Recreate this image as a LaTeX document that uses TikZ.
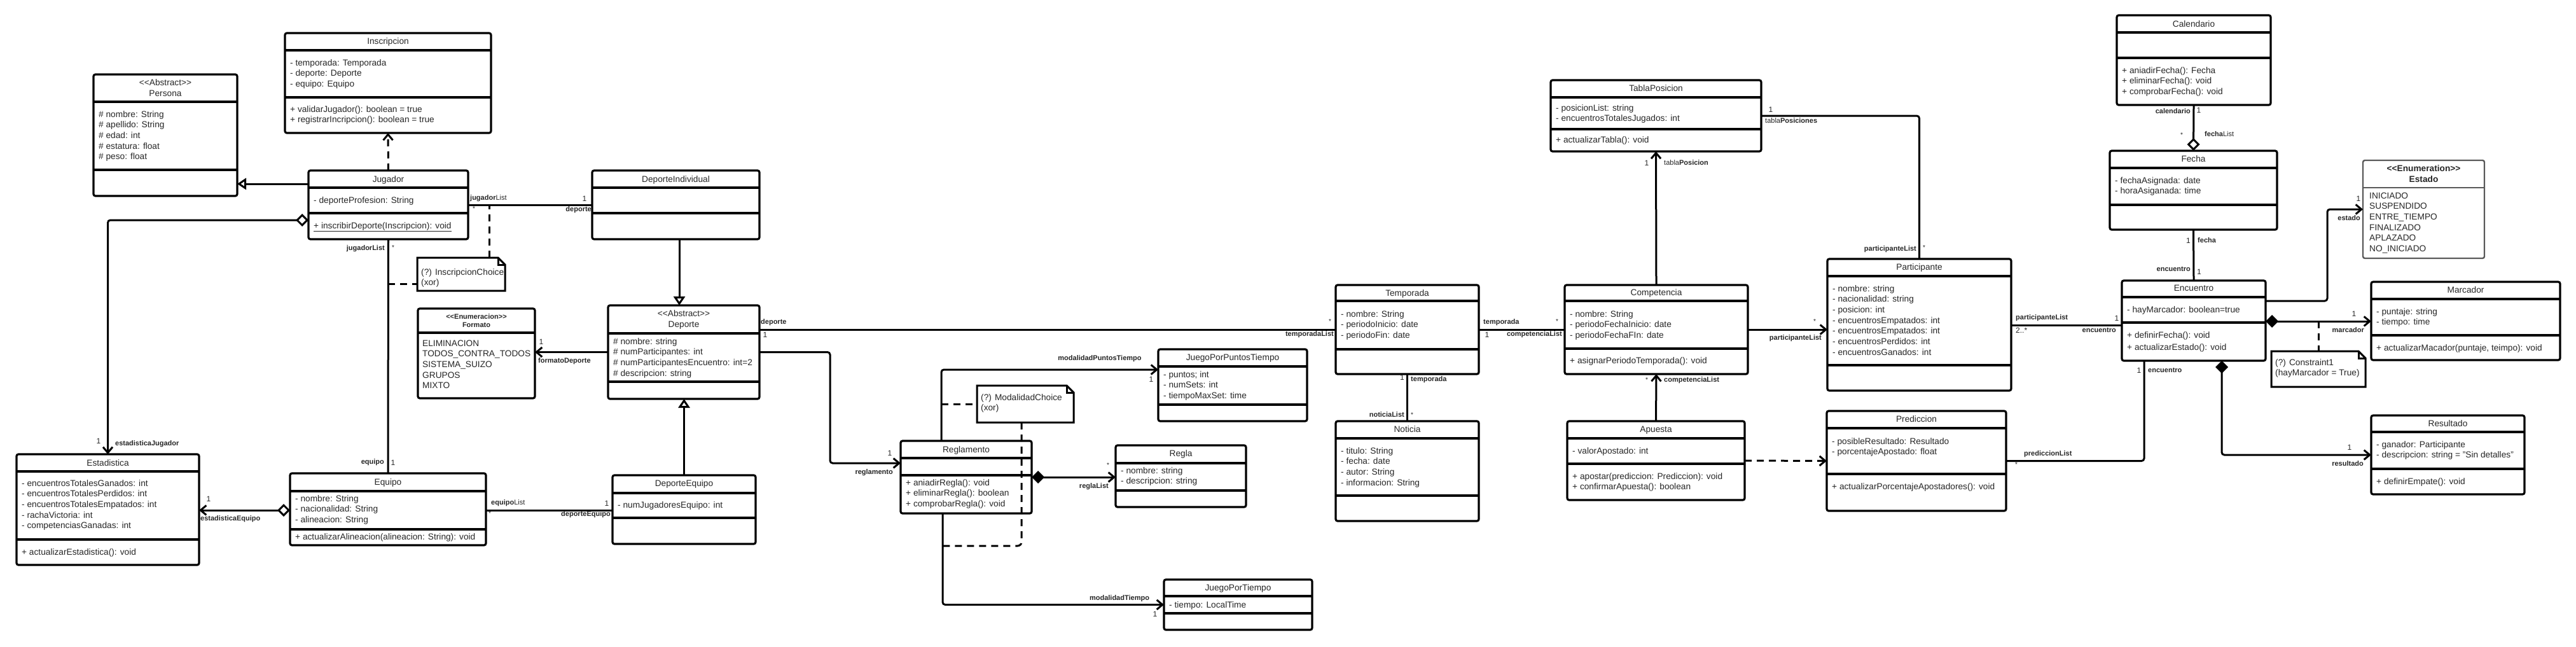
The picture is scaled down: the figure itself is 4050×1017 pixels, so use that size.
\documentclass[tikz,border=0pt]{standalone}
\usepackage{fontspec}
\setmainfont{Liberation Sans}
\usetikzlibrary{arrows.meta,calc}
\tikzset{
  box/.style={draw=black, line width=3.2pt, rounded corners=3pt, fill=white, inner sep=0pt, outer sep=0pt},
  sepl/.style={line width=3.2pt},
  ttl/.style={inner sep=0pt, anchor=base, font=\fontsize{13.7}{16.7}\selectfont, text=black!85},
  sectxt/.style={inner sep=0pt, align=left, anchor=north west, font=\fontsize{13.7}{16.7}\selectfont, text=black!85},
  role/.style={inner sep=0pt, font=\fontsize{11}{13}\selectfont\bfseries, text=black!85},
  mult/.style={inner sep=0pt, font=\fontsize{12}{14}\selectfont, text=black!85},
  star/.style={inner sep=0pt, font=\fontsize{10}{12}\selectfont, text=black!85},
  conn/.style={line width=3pt, rounded corners=4pt},
  dashc/.style={line width=3pt, dash pattern=on 11pt off 8pt, rounded corners=6pt},
  >={Straight Barb[length=9pt,width=15pt]},
  gen/.style={conn, -{Triangle[open,length=14pt,width=18pt,fill=white]}},
  odia/.style={conn, {Diamond[open,length=20pt,width=20pt,fill=white]}-},
  odiaarr/.style={conn, {Diamond[open,length=20pt,width=20pt,fill=white]}->},
  fdiaarr/.style={conn, {Diamond[length=20pt,width=20pt]}->},
  notel/.style={line width=3pt, fill=white, draw=black},
  notebox/.style={inner sep=0pt, outer sep=0pt, anchor=north west},
}
\newcommand{\umlc}[7]{%
  \node[box, minimum width={#4-#2}, minimum height={#5-#3}, anchor=north west] (#1) at (#2,#3) {};
  \draw[sepl] (#2,#6) -- (#4,#6);
  \if\relax\detokenize{#7}\relax\else\draw[sepl] (#2,#7) -- (#4,#7);\fi}
\newcommand{\umlnote}[5]{%
  \node[notebox, minimum width={#4-#2}, minimum height={#5-#3}] (#1) at (#2,#3) {};
  \draw[notel] (#1.north west) -- ([xshift=-11pt]#1.north east) -- ([yshift=-11pt]#1.north east) -- (#1.south east) -- (#1.south west) -- cycle;
  \draw[line width=3pt] ([xshift=-11pt]#1.north east) |- ([yshift=-11pt]#1.north east);}
\newcommand{\st}{\textless\kern0pt\textless\kern0pt}
\newcommand{\gt}{\kern0pt\textgreater\kern0pt\textgreater}
\begin{document}
\begin{tikzpicture}[x=1pt,y=-1pt]
\fill[white] (0,0) rectangle (4050,1017);
\useasboundingbox (0,0) rectangle (4050,1017);

% ---------- classes ----------
\umlc{pers}{147}{117}{373}{308}{160}{267}
\node[ttl] (pers-s) at (260,134) {\st Abstract\gt};
\node[ttl] (pers-t) at (260,151) {Persona};
\node[sectxt] (pers-a) at (155,172.2) {\strut\# nombre: String\\\# apellido: String\\\# edad: int\\\# estatura: float\\\# peso: float};

\umlc{insc}{448}{52}{772}{209}{79}{153}
\node[ttl] (insc-t) at (610,69) {Inscripcion};
\node[sectxt] (insc-a) at (456,91.2) {\strut- temporada: Temporada\\- deporte: Deporte\\- equipo: Equipo};
\node[sectxt] (insc-m) at (456,164.2) {\strut+ validarJugador(): boolean = true\\+ registrarIncripcion(): boolean = true};

\umlc{jug}{485}{268}{736}{376}{295}{335}
\node[ttl] (jug-t) at (610.5,286) {Jugador};
\node[sectxt] (jug-a) at (493,307.2) {\strut- deporteProfesion: String};
\node[sectxt] (jug-m) at (493,347.2) {\strut\underline{+ inscribirDeporte(Inscripcion): void}};

\umlc{dind}{931}{268}{1194}{376}{295}{335}
\node[ttl] (dind-t) at (1062.5,286) {DeporteIndividual};

\umlc{dep}{956}{480}{1194}{627}{524}{600}
\node[ttl] (dep-s) at (1075,497) {\st Abstract\gt};
\node[ttl] (dep-t) at (1075,514) {Deporte};
\node[sectxt] (dep-a) at (964,529.2) {\strut\# nombre: string\\\# numParticipantes: int\\\# numParticipantesEncuentro: int=2\\\# descripcion: string};

\umlc{fmt}{657}{485}{841}{626}{523}{}
\node[ttl, font=\fontsize{11}{13}\selectfont\bfseries] (fmt-s) at (749,501) {\st Enumeracion\gt};
\node[ttl, font=\fontsize{11}{13}\selectfont\bfseries] (fmt-t) at (749,514) {Formato};
\node[sectxt] (fmt-a) at (664,532.2) {\strut ELIMINACION\\TODOS\_CONTRA\_TODOS\\SISTEMA\_SUIZO\\GRUPOS\\MIXTO};

\umlc{est}{26}{714}{313}{888}{741}{848}
\node[ttl] (est-t) at (169.5,732) {Estadistica};
\node[sectxt] (est-a) at (34,752.2) {\strut- encuentrosTotalesGanados: int\\- encuentrosTotalesPerdidos: int\\- encuentrosTotalesEmpatados: int\\- rachaVictoria: int\\- competenciasGanadas: int};
\node[sectxt] (est-m) at (34,860.2) {\strut+ actualizarEstadistica(): void};

\umlc{eqp}{456}{744}{764}{857}{772}{832}
\node[ttl] (eqp-t) at (610,762) {Equipo};
\node[sectxt] (eqp-a) at (464,776.2) {\strut- nombre: String\\- nacionalidad: String\\- alineacion: String};
\node[sectxt] (eqp-m) at (464,836.2) {\strut+ actualizarAlineacion(alineacion: String): void};

\umlc{deq}{963}{747}{1188}{855}{775}{814}
\node[ttl] (deq-t) at (1075.5,764) {DeporteEquipo};
\node[sectxt] (deq-a) at (971,786.2) {\strut- numJugadoresEquipo: int};

\umlc{regl}{1416}{693}{1622}{807}{720}{747}
\node[ttl] (regl-t) at (1519,711) {Reglamento};
\node[sectxt] (regl-m) at (1424,751.2) {\strut+ aniadirRegla(): void\\+ eliminarRegla(): boolean\\+ comprobarRegla(): void};

\umlc{jppt}{1821}{549}{2055}{662}{576}{636}
\node[ttl] (jppt-t) at (1938,566) {JuegoPorPuntosTiempo};
\node[sectxt] (jppt-a) at (1829,581.2) {\strut- puntos; int\\- numSets: int\\- tiempoMaxSet: time};

\umlc{regla}{1754}{700}{1959}{797}{728}{771}
\node[ttl] (regla-t) at (1856.5,717) {Regla};
\node[sectxt] (regla-a) at (1762,732.2) {\strut- nombre: string\\- descripcion: string};

\umlc{jpt}{1830}{911}{2063}{990}{937}{964}
\node[ttl] (jpt-t) at (1946.5,928) {JuegoPorTiempo};
\node[sectxt] (jpt-a) at (1838,943.2) {\strut- tiempo: LocalTime};

\umlc{temp}{2100}{448}{2325}{588}{473}{549}
\node[ttl] (temp-t) at (2212.5,465) {Temporada};
\node[sectxt] (temp-a) at (2108,486.2) {\strut- nombre: String\\- periodoInicio: date\\- periodoFin: date};

\umlc{noti}{2100}{662}{2325}{819}{689}{779}
\node[ttl] (noti-t) at (2212.5,679) {Noticia};
\node[sectxt] (noti-a) at (2108,701.2) {\strut- titulo: String\\- fecha: date\\- autor: String\\- informacion: String};

\umlc{tabla}{2438}{126}{2769}{238}{153}{203}
\node[ttl] (tabla-t) at (2603.5,143) {TablaPosicion};
\node[sectxt] (tabla-a) at (2446,162.2) {\strut- posicionList: string\\- encuentrosTotalesJugados: int};
\node[sectxt] (tabla-m) at (2446,212.2) {\strut+ actualizarTabla(): void};

\umlc{comp}{2460}{448}{2748}{588}{473}{548}
\node[ttl] (comp-t) at (2604,464) {Competencia};
\node[sectxt] (comp-a) at (2468,486.2) {\strut- nombre: String\\- periodoFechaInicio: date\\- periodoFechaFIn: date};
\node[sectxt] (comp-m) at (2468,559.2) {\strut+ asignarPeriodoTemporada(): void};

\umlc{apu}{2464}{662}{2743}{786}{689}{729}
\node[ttl] (apu-t) at (2603.5,679) {Apuesta};
\node[sectxt] (apu-a) at (2472,701.2) {\strut- valorApostado: int};
\node[sectxt] (apu-m) at (2472,741.2) {\strut+ apostar(prediccion: Prediccion): void\\+ confirmarApuesta(): boolean};

\umlc{part}{2873}{407}{3162}{614}{434}{574}
\node[ttl] (part-t) at (3017.5,424) {Participante};
\node[sectxt] (part-a) at (2881,446.2) {\strut- nombre: string\\- nacionalidad: string\\- posicion: int\\- encuentrosEmpatados: int\\- encuentrosEmpatados: int\\- encuentrosPerdidos: int\\- encuentrosGanados: int};

\umlc{pred}{2872}{646}{3154}{803}{673}{745}
\node[ttl] (pred-t) at (3013,663) {Prediccion};
\node[sectxt] (pred-a) at (2880,686.2) {\strut- posibleResultado: Resultado\\- porcentajeApostado: float};
\node[sectxt] (pred-m) at (2880,757.2) {\strut+ actualizarPorcentajeApostadores(): void};

\umlc{cal}{3328}{24}{3570}{165}{51}{91}
\node[ttl] (cal-t) at (3449,42) {Calendario};
\node[sectxt] (cal-m) at (3336,103.2) {\strut+ aniadirFecha(): Fecha\\+ eliminarFecha(): void\\+ comprobarFecha(): void};

\umlc{fecha}{3317}{237}{3580}{361}{264}{322}
\node[ttl] (fecha-t) at (3448.5,254) {Fecha};
\node[sectxt] (fecha-a) at (3325,276.2) {\strut- fechaAsignada: date\\- horaAsiganada: time};

\umlc{enc}{3336}{441}{3562}{567}{467}{507}
\node[ttl] (enc-t) at (3449,457) {Encuentro};
\node[sectxt] (enc-a) at (3344,479.2) {\strut- hayMarcador: boolean=true};
\node[sectxt, font=\fontsize{13.7}{19}\selectfont] (enc-m) at (3344,517.6) {\strut+ definirFecha(): void\\+ actualizarEstado(): void};

\node[box, draw=black!65, line width=2.4pt, minimum width=191, minimum height=154, anchor=north west] (estado) at (3715,252) {};
\draw[line width=2.4pt, black!65] (3715,295) -- (3906,295);
\node[ttl, font=\fontsize{13.7}{16.7}\selectfont\bfseries] (estado-s) at (3810.5,269) {\st Enumeration\gt};
\node[ttl, font=\fontsize{13.7}{16.7}\selectfont\bfseries] (estado-t) at (3810.5,286) {Estado};
\node[sectxt] (estado-a) at (3725,300.2) {\strut INICIADO\\SUSPENDIDO\\ENTRE\_TIEMPO\\FINALIZADO\\APLAZADO\\NO\_INICIADO};

\umlc{marc}{3728}{443}{4025}{566}{470}{527}
\node[ttl] (marc-t) at (3876.5,460) {Marcador};
\node[sectxt] (marc-a) at (3736,482.2) {\strut- puntaje: string\\- tiempo: time};
\node[sectxt] (marc-m) at (3736,539.2) {\strut+ actualizarMacador(puntaje, teimpo): void};

\umlc{res}{3728}{653}{3969}{777}{679}{737}
\node[ttl] (res-t) at (3848.5,670) {Resultado};
\node[sectxt] (res-a) at (3736,691.2) {\strut- ganador: Participante\\- descripcion: string = "Sin detalles"};
\node[sectxt] (res-m) at (3736,749.2) {\strut+ definirEmpate(): void};

% ---------- notes ----------
\umlnote{nins}{656}{405}{794}{457}
\node[sectxt] (nins-x) at (662,420.2) {\strut(?) InscripcionChoice\\(xor)};
\umlnote{nmod}{1536}{606}{1688}{664}
\node[sectxt] (nmod-x) at (1542,617.2) {\strut(?) ModalidadChoice\\(xor)};
\umlnote{ncon}{3571}{552}{3719}{608}
\node[sectxt] (ncon-x) at (3577,562.2) {\strut(?) Constraint1\\(hayMarcador = True)};

% ---------- connectors ----------
\draw[gen] (jug.west |- 0,289) -- (pers.east |- 0,289);
\draw[conn,dashc,->] (jug.north) -- (insc.south);
\draw[odiaarr] (jug.west |- 0,346) -| (est.north);
\draw[conn] (jug.south) -- (eqp.north);
\draw[odiaarr] (eqp.west |- 0,802) -- (est.east |- 0,802);
\draw[conn] (jug.east) -- (dind.west);
\draw[gen] (dind.south -| 1068,0) -- (dep.north -| 1068,0);
\draw[gen] (deq.north) -- (deq.north |- dep.south);
\draw[conn,->] (dep.west) -- (fmt.east |- dep.west);
\draw[conn] (eqp.east |- 0,802) -- (deq.west |- 0,802);
\draw[conn] (dep.east |- 0,518) -- (temp.west);
\draw[conn] (temp.east) -- (comp.west);
\draw[conn,->] (dep.east) -- (1305,553.5) -- (1305,728) -- (regl.west |- 0,728);
\draw[conn,->] (regl.north -| 1480,0) |- (jppt.west |- 0,581);
\draw[conn,->] (regl.south -| 1482,0) |- (jpt.west);
\draw[fdiaarr] (regl.east |- 0,750) -- (regla.west |- 0,750);
\coordinate (m1) at (1480,635);
\draw[dashc] (m1) -- (nmod.west);
\coordinate (m2) at (1482,858);
\draw[dashc] (nmod.south -| 1606,0) |- (m2);
\coordinate (i1) at (610,446);
\draw[dashc] (i1) -- (nins.west |- i1);
\coordinate (i2) at (769,322);
\draw[dashc] (nins.north -| i2) -- (i2);
\draw[conn] (temp.south) -- (noti.north);
\draw[conn,->] (comp.north) -- (tabla.south);
\draw[conn,->] (apu.north) -- (comp.south);
\draw[conn,dashc,->] (apu.east) -- (pred.west);
\draw[conn] (tabla.east) -| (part.north);
\draw[conn,->] (comp.east) -- (part.west |- comp.east);
\draw[conn] (part.east |- 0,511) -- (enc.west |- 0,511);
\draw[odia] (fecha.north) -- (cal.south);
\draw[conn] (fecha.south) -- (enc.north);
\draw[conn,->] (enc.east |- 0,473) -- (3659,473) |- (estado.west);
\draw[fdiaarr] (enc.east |- 0,505) -- (marc.west |- 0,505);
\coordinate (c1) at (3645,505);
\draw[dashc] (c1) -- (ncon.north -| c1);
\draw[fdiaarr] (enc.south -| 3493,0) |- (res.west);
\draw[conn] (enc.south -| 3371,0) |- (pred.east);

% ---------- labels ----------
\node[role,anchor=east] (l01) at (605,391) {jugadorList};
\node[star] (l02) at (618,389) {*};
\node[role,anchor=east] (l03) at (604,727) {equipo};
\node[mult] (l04) at (618,727) {1};
\node[mult] (l05) at (155,693) {1};
\node[role,anchor=west] (l06) at (181,698) {estadisticaJugador};
\node[mult] (l07) at (328,784) {1};
\node[role,anchor=west] (l08) at (315,816) {estadisticaEquipo};
\node[role,anchor=west] (l09) at (739,312) {jugador\textmd{List}};
\node[star] (l10) at (745,328) {*};
\node[mult] (l11) at (919,312) {1};
\node[role,anchor=east] (l12) at (930,330) {deporte};
\node[role,anchor=west] (l13) at (772,791) {equipo\textmd{List}};
\node[star] (l14) at (770,807) {*};
\node[mult] (l15) at (954,791) {1};
\node[role,anchor=east] (l16) at (960,809) {deporteEquipo};
\node[mult] (l17) at (851,537) {1};
\node[role,anchor=west] (l18) at (846,568) {formatoDeporte};
\node[role,anchor=west] (l19) at (1196,507) {deporte};
\node[mult] (l20) at (1203,526) {1};
\node[star] (l21) at (2091,505) {*};
\node[role,anchor=east] (l22) at (2097,526) {temporadaList};
\node[mult] (l23) at (1399,712) {1};
\node[role,anchor=east] (l24) at (1404,743) {reglamento};
\node[role] (l25) at (1729,564) {modalidadPuntosTiempo};
\node[mult] (l26) at (1810,596) {1};
\node[star] (l27) at (1742,731) {*};
\node[role,anchor=east] (l28) at (1743,765) {reglaList};
\node[role] (l29) at (1760,941) {modalidadTiempo};
\node[mult] (l30) at (1816,965) {1};
\node[role,anchor=west] (l31) at (2332,507) {temporada};
\node[star] (l32) at (2448,505) {*};
\node[mult] (l33) at (2338,526) {1};
\node[role,anchor=east] (l34) at (2456,526) {competenciaList};
\node[mult,anchor=east] (l35) at (2208,593) {1};
\node[role,anchor=west] (l36) at (2218,597) {temporada};
\node[role,anchor=east] (l37) at (2208,652) {noticiaList};
\node[star] (l38) at (2220,652) {*};
\node[mult] (l39) at (2589,256) {1};
\node[role,anchor=west] (l40) at (2616,256) {\textmd{tabla}Posicion};
\node[star] (l41) at (2589,597) {*};
\node[role,anchor=west] (l42) at (2616,598) {competenciaList};
\node[mult] (l43) at (2784,172) {1};
\node[role,anchor=west] (l44) at (2775,190) {\textmd{tabla}Posiciones};
\node[role,anchor=east] (l45) at (3013,392) {participanteList};
\node[star] (l46) at (3025,389) {*};
\node[star] (l47) at (2853,505) {*};
\node[role,anchor=east] (l48) at (2864,532) {participanteList};
\node[role,anchor=west] (l49) at (3169,500) {participanteList};
\node[mult] (l50) at (3328,500) {1};
\node[mult,anchor=west] (l51) at (3169,519) {2..*};
\node[role,anchor=east] (l52) at (3327,519) {encuentro};
\node[role,anchor=east] (l53) at (3444,175) {calendario};
\node[mult] (l54) at (3457,173) {1};
\node[star] (l55) at (3430,212) {*};
\node[role,anchor=west] (l56) at (3466,211) {fecha\textmd{List}};
\node[mult,anchor=east] (l57) at (3444,378) {1};
\node[role,anchor=west] (l58) at (3455,378) {fecha};
\node[role,anchor=east] (l59) at (3444,423) {encuentro};
\node[mult,anchor=west] (l60) at (3454,427) {1};
\node[mult] (l61) at (3708,312) {1};
\node[role,anchor=east] (l62) at (3711,343) {estado};
\node[mult] (l63) at (3701,493) {1};
\node[role,anchor=east] (l64) at (3717,519) {marcador};
\node[mult] (l65) at (3694,703) {1};
\node[role,anchor=east] (l66) at (3716,729) {resultado};
\node[mult] (l67) at (3363,582) {1};
\node[role,anchor=west] (l68) at (3377,582) {encuentro};
\node[role,anchor=west] (l69) at (3182,714) {prediccionList};
\node[star] (l70) at (3170,730) {*};
\end{tikzpicture}
\end{document}
